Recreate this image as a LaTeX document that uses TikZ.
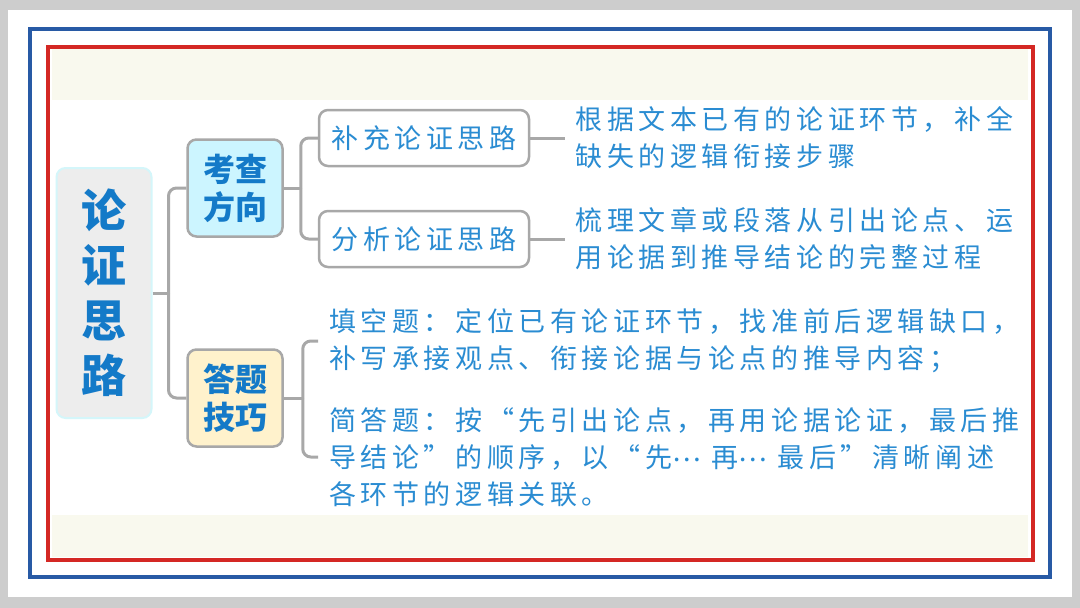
\documentclass[tikz,border=0pt]{standalone}
\usepackage{fontspec}
\usepackage{tikz}
\usetikzlibrary{positioning}
\newfontfamily\cjk[LetterSpace=17]{Noto Sans CJK SC}
\newfontfamily\cjkb{Noto Sans CJK SC}
\definecolor{shd}{RGB}{205,205,205}
\definecolor{cream}{RGB}{249,249,238}
\definecolor{frmblue}{RGB}{40,90,165}
\definecolor{frmred}{RGB}{212,40,36}
\definecolor{lnk}{RGB}{168,168,168}
\definecolor{tbold}{RGB}{20,122,200}
\definecolor{ttxt}{RGB}{42,140,210}
\definecolor{rootbg}{RGB}{237,237,237}
\definecolor{rootln}{RGB}{212,246,250}
\definecolor{cyanbg}{RGB}{204,245,255}
\definecolor{yelbg}{RGB}{255,242,204}
\newcommand{\midots}{\raisebox{6pt}{…}}

\begin{document}
\begin{tikzpicture}[x=1pt,y=-1pt,
  link/.style={draw=lnk,line width=3pt,rounded corners=8pt},
  root/.style={draw=rootln,fill=rootbg,line width=2pt,rounded corners=9pt,minimum width=95pt,minimum height=250pt,inner sep=0pt,align=center,text=tbold,font=\cjkb\bfseries\fontsize{45}{55}\selectfont},
  cat/.style={draw=lnk,line width=2.5pt,rounded corners=9pt,minimum width=95pt,minimum height=97pt,inner sep=0pt,align=center,text=tbold,font=\cjkb\bfseries\fontsize{32}{38}\selectfont},
  sub/.style={draw=lnk,fill=white,line width=2.5pt,rounded corners=9pt,minimum width=210pt,minimum height=56pt,inner sep=0pt,text=ttxt,font=\cjk\fontsize{27}{37}\selectfont},
  note/.style={align=left,inner sep=0pt,anchor=west,text=ttxt,font=\cjk\fontsize{27}{37}\selectfont}]
\useasboundingbox (0,0) rectangle (1080,608);
% card and frames
\fill[shd] (0,0) rectangle (1080,608);
\fill[white] (8,10) rectangle (1072,597);
\fill[cream] (52,49) rectangle (1028,100);
\fill[cream] (52,515) rectangle (1028,557);
\draw[frmblue,line width=4.5pt] (30,29) rectangle (1050,577);
\draw[frmred,line width=4pt] (48,47) rectangle (1033,560);

\node[root] (r) at (104,293) {论\\证\\思\\路};
\node[cat,fill=cyanbg] (k) at (235,188) {考查\\方向};
\node[cat,fill=yelbg] (d) at (235,398) {答题\\技巧};
\node[sub] (s1) at (424,138) {补充论证思路};
\node[sub] (s2) at (424,239) {分析论证思路};
\node[note] (n1) [right=45pt of s1] {根据文本已有的论证环节，补全\\缺失的逻辑衔接步骤};
\node[note] (n2) [right=45pt of s2] {梳理文章或段落从引出论点、运\\用论据到推导结论的完整过程};
\node[note] (t1) at (329,341) {填空题：定位已有论证环节，找准前后逻辑缺口，\\补写承接观点、衔接论据与论点的推导内容；};
\node[note] (t2) at (329,457) {简答题：按“先引出论点，再用论据论证，最后推\\导结论”的顺序，以“先\midots{} 再\midots{} 最后”清晰阐述\\各环节的逻辑关联。};

% connectors
\draw[link] (r.east) -- ++(16,0) coordinate (j1);
\draw[link] (j1) |- (k.west);
\draw[link] (j1) |- (d.west);
\draw[link] (k.east) -- ++(17,0) coordinate (j2);
\draw[link] (j2) |- (s1.west);
\draw[link] (j2) |- (s2.west);
\draw[link] (s1.east) -- ([xshift=-10pt]n1.west);
\draw[link] (s2.east) -- ([xshift=-10pt]n2.west);
\draw[link] (d.east) -- ++(19,0) coordinate (j3);
\draw[link] (j3) |- ([xshift=-11pt]t1.west);
\draw[link] (j3) |- ([xshift=-11pt]t2.west);
\end{tikzpicture}
\end{document}
